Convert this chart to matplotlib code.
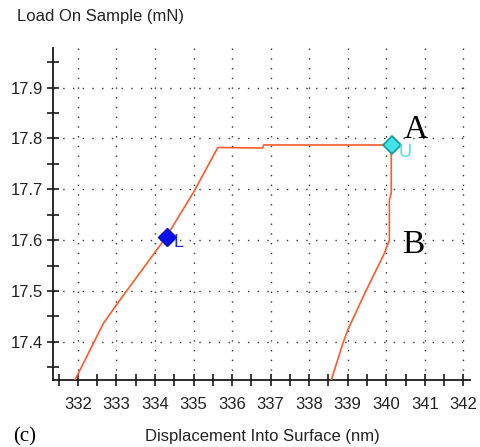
import numpy as np
import matplotlib
matplotlib.use("Agg")
import matplotlib.pyplot as plt
from matplotlib.ticker import MultipleLocator

plt.rcParams["font.family"] = ["Liberation Sans", "DejaVu Sans"]

# ── data ───────────────────────────────────────────────────────
disp = [331.92, 332.66, 333.09, 334.31, 335.03, 335.63, 336.79, 336.82,
        340.13, 340.13, 340.08, 340.08, 339.95, 339.44, 339.00, 338.87, 338.57]
load = [17.324, 17.436, 17.482, 17.608, 17.698, 17.782, 17.781, 17.787,
        17.787, 17.692, 17.679, 17.600, 17.574, 17.495, 17.423, 17.396, 17.324]

pt_L = (334.31, 17.607)
pt_U = (340.14, 17.787)
pt_A = (340.45, 17.800)
pt_B = (340.40, 17.574)

LINE = "#ff5a2a"

fig = plt.figure(figsize=(4.8, 4.47), dpi=100)
ax = fig.add_axes([0.110, 0.150, 0.869, 0.743])

ax.plot(disp, load, color=LINE, lw=1.2, zorder=3)

ax.plot(*pt_L, marker="D", ms=9, color="#0a10e8", mec="#0a10c0", zorder=4)
ax.text(pt_L[0] + 0.17, pt_L[1] - 0.012, "L", color="#1a2ae8", fontsize=13,
        ha="left", va="center", zorder=4)
ax.plot(*pt_U, marker="D", ms=9, color="#40e4e4", mec="#109a9a", mew=1.2, zorder=4)
ax.text(pt_U[0] + 0.17, pt_U[1] - 0.014, "U", color="#40e4f0", fontsize=13,
        ha="left", va="center", zorder=4)

ax.text(*pt_A, "A", fontsize=24, family=["Liberation Serif", "DejaVu Serif"],
        ha="left", va="baseline", zorder=5)
ax.text(*pt_B, "B", fontsize=24, family=["Liberation Serif", "DejaVu Serif"],
        ha="left", va="baseline", zorder=5)

ax.set_xlim(331.35, 342.17)
ax.set_ylim(17.325, 17.978)

ax.xaxis.set_major_locator(MultipleLocator(1))
ax.xaxis.set_minor_locator(MultipleLocator(0.5))
ax.yaxis.set_major_locator(MultipleLocator(0.1))
ax.yaxis.set_minor_locator(MultipleLocator(0.05))
ax.set_xticks(np.arange(332, 343, 1))
ax.set_yticks(np.round(np.arange(17.4, 17.95, 0.1), 1))
ax.set_yticklabels([f"{v:.1f}" for v in np.arange(17.4, 17.95, 0.1)])

ax.tick_params(which="both", direction="inout", length=8, width=1.2,
               color="#1a1a1a", labelsize=12, labelcolor="#222222")
ax.tick_params(axis="x", pad=8)
ax.tick_params(axis="y", pad=3)

for s in ["top", "right"]:
    ax.spines[s].set_visible(False)
for s in ["left", "bottom"]:
    ax.spines[s].set_linewidth(1.3)
    ax.spines[s].set_color("#1a1a1a")

ax.grid(True, which="major", color="#333333", linestyle=(0, (1, 6)), linewidth=1.0)
ax.set_axisbelow(True)

fig.text(0.036, 1 - 17 / 447, "Load On Sample (mN)", fontsize=12,
         color="#222222", ha="left", va="center")
fig.text(0.547, 1 - 437 / 447, "Displacement Into Surface (nm)", fontsize=12,
         color="#222222", ha="center", va="center")
fig.text(0.027, 1 - 437 / 447, "(c)", fontsize=15,
         family=["Liberation Serif", "DejaVu Serif"], ha="left", va="center")

fig.savefig("out.png", dpi=100)
